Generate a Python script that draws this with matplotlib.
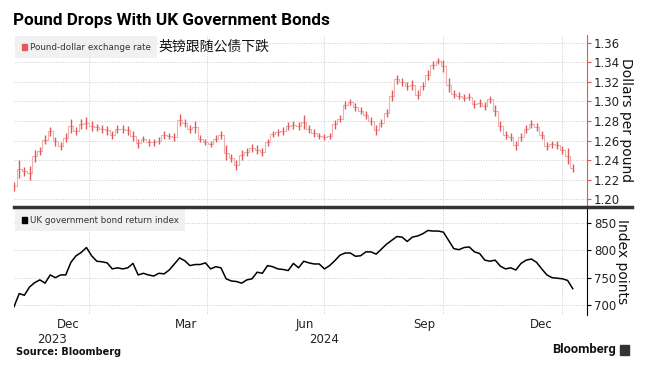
import numpy as np
import pandas as pd
import matplotlib
matplotlib.use('Agg')
import matplotlib.pyplot as plt
from matplotlib.patches import Patch, Rectangle

plt.rcParams['font.family'] = ['DejaVu Sans', 'Noto Sans CJK SC']

# Sample dates, every 4 days from early Nov 2023 to early Jan 2025
dates = pd.date_range('2023-11-04', periods=109, freq='4D')

# Pound-dollar exchange rate, low / high per sample
pound_low = [1.208, 1.222, 1.224, 1.220, 1.238, 1.245, 1.256, 1.265, 1.254, 1.250,
             1.258, 1.268, 1.266, 1.272, 1.272, 1.270, 1.270, 1.268, 1.266, 1.262,
             1.268, 1.268, 1.266, 1.260, 1.252, 1.258, 1.254, 1.254, 1.256, 1.262,
             1.262, 1.260, 1.275, 1.274, 1.268, 1.268, 1.258, 1.255, 1.253, 1.258,
             1.262, 1.240, 1.238, 1.230, 1.240, 1.244, 1.248, 1.246, 1.244, 1.254,
             1.264, 1.265, 1.266, 1.271, 1.272, 1.271, 1.272, 1.268, 1.264, 1.262,
             1.261, 1.262, 1.272, 1.279, 1.292, 1.296, 1.290, 1.287, 1.282, 1.276,
             1.266, 1.274, 1.284, 1.300, 1.318, 1.316, 1.312, 1.312, 1.302, 1.312,
             1.322, 1.333, 1.338, 1.330, 1.310, 1.304, 1.302, 1.300, 1.301, 1.293,
             1.294, 1.291, 1.298, 1.285, 1.270, 1.262, 1.260, 1.250, 1.260, 1.268,
             1.273, 1.270, 1.262, 1.250, 1.252, 1.251, 1.246, 1.236, 1.228]
pound_high = [1.218, 1.240, 1.233, 1.234, 1.250, 1.253, 1.266, 1.274, 1.264, 1.258,
              1.268, 1.282, 1.274, 1.282, 1.284, 1.280, 1.277, 1.276, 1.275, 1.270,
              1.276, 1.276, 1.275, 1.270, 1.262, 1.265, 1.262, 1.262, 1.264, 1.270,
              1.268, 1.268, 1.287, 1.282, 1.276, 1.280, 1.266, 1.262, 1.260, 1.266,
              1.270, 1.255, 1.246, 1.240, 1.250, 1.252, 1.256, 1.255, 1.252, 1.262,
              1.270, 1.272, 1.274, 1.279, 1.280, 1.279, 1.286, 1.276, 1.272, 1.268,
              1.267, 1.268, 1.281, 1.286, 1.300, 1.303, 1.298, 1.294, 1.290, 1.284,
              1.276, 1.282, 1.292, 1.312, 1.327, 1.324, 1.320, 1.322, 1.312, 1.320,
              1.332, 1.341, 1.344, 1.342, 1.324, 1.312, 1.310, 1.308, 1.309, 1.301,
              1.302, 1.299, 1.306, 1.296, 1.280, 1.270, 1.268, 1.260, 1.268, 1.276,
              1.281, 1.278, 1.270, 1.258, 1.260, 1.259, 1.254, 1.252, 1.236]

# UK government bond return index
bond_index = [697, 721, 718, 733, 741, 746, 740, 755, 750, 755,
              755, 778, 790, 796, 805, 790, 780, 779, 777, 766,
              768, 766, 768, 776, 755, 758, 755, 753, 758, 757,
              764, 775, 786, 781, 772, 774, 774, 777, 766, 770,
              768, 748, 744, 743, 740, 746, 748, 760, 758, 772,
              770, 766, 765, 763, 776, 768, 780, 777, 775, 775,
              766, 772, 781, 791, 795, 795, 789, 790, 797, 797,
              793, 802, 811, 818, 825, 824, 816, 824, 826, 830,
              836, 835, 835, 833, 818, 803, 801, 805, 806, 797,
              794, 782, 780, 782, 771, 766, 768, 764, 776, 782,
              784, 778, 766, 755, 750, 749, 748, 745, 730]

pound_ticks = [1.20, 1.22, 1.24, 1.26, 1.28, 1.30, 1.32, 1.34, 1.36]
bond_ticks = [700, 750, 800, 850]
quarter_lines = pd.to_datetime(['2024-01-01', '2024-04-01', '2024-07-01', '2024-10-01', '2025-01-01'])
month_ticks = pd.to_datetime(['2023-12-16', '2024-03-16', '2024-06-16', '2024-09-16', '2024-12-16'])
month_labels = ['Dec', 'Mar', 'Jun', 'Sep', 'Dec']

pound_mid = (np.array(pound_low) + np.array(pound_high)) / 2
xmin = pd.Timestamp('2023-11-04')
xmax = pd.Timestamp('2025-01-20')

W, H = 648, 374
fig = plt.figure(figsize=(W / 100, H / 100), dpi=100)
ax1 = fig.add_axes([14 / W, 1 - 205 / H, 573 / W, 170 / H])
ax2 = fig.add_axes([14 / W, 1 - 315 / H, 573 / W, 107 / H])

red = '#e05a5a'
grid_kw = dict(color='#cccccc', lw=0.7, ls=(0, (1, 1.5)))
narrow = ['Roboto', 'DejaVu Sans']

# top panel: pound
ax1.vlines(dates, pound_low, pound_high, color=red, lw=1.0)
ax1.plot(dates, pound_mid, drawstyle='steps-mid', color='#f0b0b0', lw=0.8, zorder=1)
ax1.set_ylim(1.194, 1.368)
ax1.set_yticks(pound_ticks)
ax1.set_yticklabels([f'{t:.2f}' for t in pound_ticks])

# bottom panel: bonds
ax2.plot(dates, bond_index, color='black', lw=1.1)
ax2.set_ylim(682, 877)
ax2.set_yticks(bond_ticks)

for ax, spine_col in [(ax1, red), (ax2, 'black')]:
    ax.set_xlim(xmin, xmax)
    for s in ['left', 'top', 'bottom']:
        ax.spines[s].set_visible(False)
    ax.spines['right'].set_color(spine_col)
    ax.spines['right'].set_linewidth(0.8)
    ax.yaxis.tick_right()
    ax.tick_params(axis='y', colors=spine_col, labelcolor='#222222', length=3,
                   width=0.8, labelsize=8.5, pad=2)
    ax.grid(axis='y', **grid_kw)
    for q in quarter_lines:
        ax.axvline(q, **grid_kw, zorder=0)
    ax.set_facecolor('none')

ax1.set_xticks([])
ax2.set_xticks(month_ticks)
ax2.set_xticklabels(month_labels)
ax2.tick_params(axis='x', length=0, labelsize=8.5, labelcolor='#222222', pad=2)

ax1.yaxis.set_label_position('right')
ax1.set_ylabel('Dollars per pound', rotation=270, fontsize=10, labelpad=9, color='#111111')
ax2.yaxis.set_label_position('right')
ax2.set_ylabel('Index points', rotation=270, fontsize=10, labelpad=9, color='#111111')

# legends
for ax, col, name in [(ax1, red, 'Pound-dollar exchange rate'),
                      (ax2, 'black', 'UK government bond return index')]:
    leg = ax.legend(handles=[Patch(color=col)], labels=[name],
                    loc='upper left', bbox_to_anchor=(0, 1), borderaxespad=0.15,
                    fontsize=6.3, frameon=True, fancybox=False, handlelength=0.6,
                    handleheight=0.6, handletextpad=0.3, borderpad=0.75)
    leg.get_frame().set_facecolor('#eeeeee')
    leg.get_frame().set_edgecolor('none')
    leg.get_texts()[0].set_color('#333333')

fig.text(158 / W, 1 - 47 / H, '英镑跟随公债下跌', family=['Noto Sans CJK SC'],
         fontsize=10, va='center', ha='left', color='#111111')

# thick separator between panels
fig.add_artist(plt.Line2D([14 / W, 632 / W], [1 - 207 / H, 1 - 207 / H],
                          color='#333333', lw=2.5))

# year labels
ax2.text(xmin + (pd.Timestamp('2024-01-01') - xmin) / 2, -0.17, '2023',
         transform=ax2.get_xaxis_transform(), ha='center', va='top', fontsize=8.5, color='#222222')
ax2.text(pd.Timestamp('2024-07-01'), -0.17, '2024',
         transform=ax2.get_xaxis_transform(), ha='center', va='top', fontsize=8.5, color='#222222')

fig.text(13 / W, 1 - 20 / H, 'Pound Drops With UK Government Bonds', family=narrow,
         fontsize=12.3, fontweight='bold', va='center', ha='left', color='black')
fig.text(16 / W, 1 - 352 / H, 'Source: Bloomberg', fontsize=7, fontweight='bold',
         va='center', ha='left', color='#111111')
fig.text(616 / W, 1 - 350 / H, 'Bloomberg', family=narrow, fontsize=9.3, fontweight='bold',
         va='center', ha='right', color='#111111')
fig.add_artist(Rectangle((620 / W, 1 - 355 / H), 9 / W, 10 / H, color='#333333',
                         transform=fig.transFigure))

fig.savefig('out.png', dpi=100)
